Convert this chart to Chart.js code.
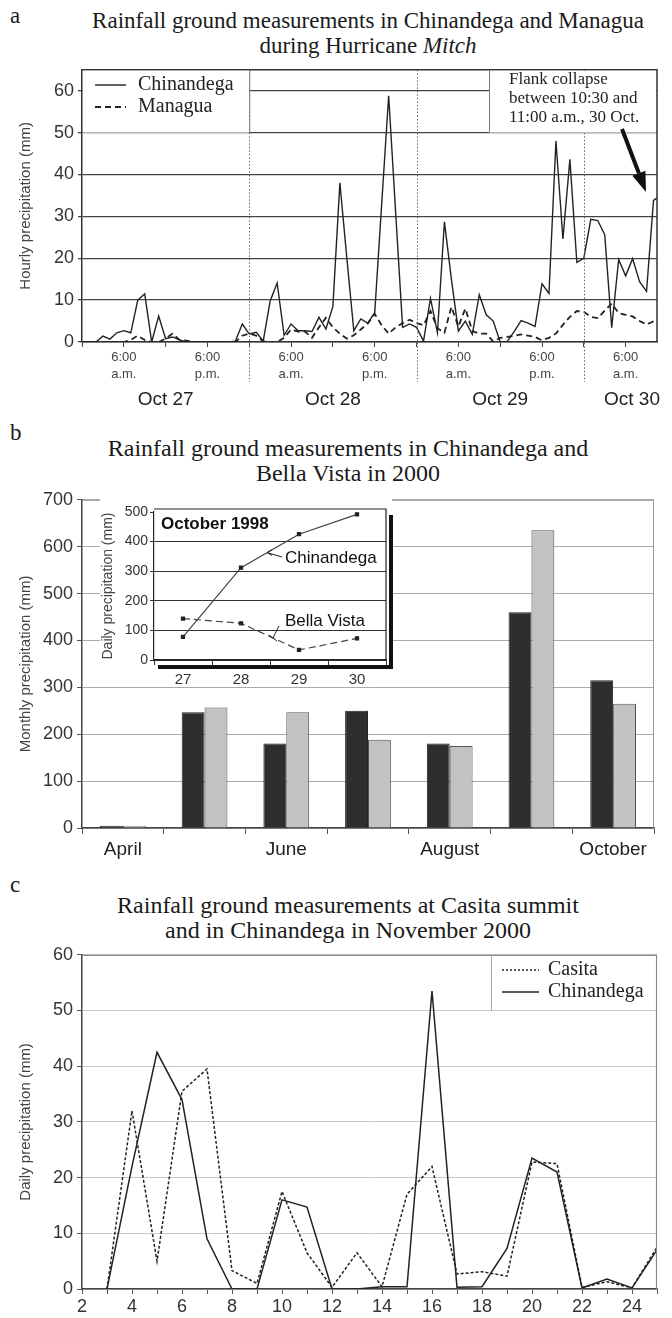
<!DOCTYPE html>
<html>
<head>
<meta charset="utf-8">
<script src="https://cdn.jsdelivr.net/npm/chart.js@4.4.1/dist/chart.umd.min.js"></script>
<style>
  body { margin: 0; background: #fff; width: 672px; height: 1318px; position: relative; overflow: hidden; }
  canvas { position: absolute; }
  .ttl { position: absolute; font-family: "Liberation Serif", "Times New Roman", serif; font-size: 23px; line-height: 25px; color: #1a1a1a; text-align: center; white-space: nowrap; }
  .ttl.big { font-size: 24px; }
  .lt { position: absolute; font-family: "Liberation Serif", "Times New Roman", serif; font-size: 23px; line-height: 25px; color: #1a1a1a; }
</style>
</head>
<body>
<div class="lt" style="left:10px;top:3px">a</div>
<div class="ttl" style="left:68px;width:600px;top:8px">Rainfall ground measurements in Chinandega and Managua<br>during Hurricane <i>Mitch</i></div>
<div class="lt" style="left:10px;top:420px">b</div>
<div class="ttl big" style="left:48px;width:600px;top:436px">Rainfall ground measurements in Chinandega and<br>Bella Vista in 2000</div>
<div class="lt" style="left:10px;top:872px">c</div>
<div class="ttl big" style="left:48px;width:600px;top:893px">Rainfall ground measurements at Casita summit<br>and in Chinandega in November 2000</div>

<canvas id="ca" width="672" height="365" style="left:0;top:55px"></canvas>
<canvas id="cb" width="672" height="385" style="left:0;top:485px"></canvas>
<canvas id="cinset" width="300" height="192" style="left:95px;top:498px"></canvas>
<canvas id="cc" width="672" height="378" style="left:0;top:940px"></canvas>

<script>
// ---- panel a: hourly rain during Mitch, hours from Oct 27 00:00 ----
var hoursA = [0,1,2,3,4,5,6,7,8,9,10,11,12,13,14,15,16,17,18,19,20,21,22,23,24,25,26,27,28,29,
  30,31,32,33,34,35,36,37,38,39,40,41,42,43,44,45,46,47,48,49,50,51,52,53,54,55,56,57,58,59,
  60,61,62,63,64,65,66,67,68,69,70,71,72,73,74,75,76,77,78,79,80,81,82,83];
var chinandegaHourly = [0,0,0,1.4,0.7,2.2,2.7,2.2,10,11.5,
  0,6.2,0.8,1.2,0.5,0,0,0,0,0,
  0,0,0.2,4.3,1.9,2.3,0.2,9.8,14.1,1.6,
  4.3,2.7,2.7,2.5,5.9,3.1,8.5,38,20,2.7,
  5.5,4.5,7,33,58.8,31,3.5,4.3,3.5,0.2,
  10.4,2.2,28.7,15,2.6,5,1.8,11.3,6.5,5,
  0,0.1,2.5,5.1,4.5,3.7,13.9,11.6,48,24.6,
  43.6,19,20,29.3,29,25.6,3.4,19.7,15.8,19.9,
  14.4,12.1,33.8,35];
var managuaHourly = [0,0,0,0,0,0,0,0.5,1.5,0.5,
  0,0,0.8,2,0.5,0.3,0,0,0,0,
  0,0,0,1.5,2,1.5,0.2,0,0,1,
  3,2.5,2.5,1,3.5,5.8,3.5,2,0.8,1.6,
  3,4.4,6.7,4,2,3.5,4.5,5.3,4.5,4,
  7.4,3.3,2.2,8.4,3.7,8,2.6,2,2,0.1,
  1,1.2,1.5,1.8,1.5,1.2,0.4,1,2,4.1,
  6,7.4,7.2,6,5.7,7.5,9.2,6.9,6.5,6.1,
  5,4.2,4.9,4.9];
var dayBounds = [24, 48, 72];
var dayLabels = ['Oct 27', 'Oct 28', 'Oct 29', 'Oct 30'];

// ---- panel b: monthly totals 2000 + inset October 1998 ----
var months = ['April', 'May', 'June', 'July', 'August', 'September', 'October'];
var chinandegaMonthly = [5, 247, 180, 250, 180, 460, 315];
var bellaVistaMonthly = [5, 257, 247, 188, 175, 635, 265];
var octDays = ['27', '28', '29', '30'];
var chinandegaOct98 = [78, 312, 425, 492];
var bellaVistaOct98 = [140, 124, 34, 73];

// ---- panel c: daily rain November 2000 ----
var novDays = [3,4,5,6,7,8,9,10,11,12,13,14,15,16,17,18,19,20,21,22,23,24,25];
var casitaNov = [0,32,5,35.5,39.5,3.3,1,17.5,6.5,0.3,6.5,0.4,17,22,2.7,3.1,2.3,22.8,22.5,0.3,1.3,0.2,7.5];
var chinandegaNov = [0,22,42.5,34,9,0,0,16,14.7,0,0,0.4,0.4,53.5,0.3,0.4,7.3,23.5,21,0.2,1.8,0.2,7];

Chart.defaults.font.family = '"Liberation Sans", Arial, sans-serif';
Chart.defaults.color = '#333';

var SERIF = '"Liberation Serif", "Times New Roman", serif';

function pairs(xs, ys) {
  return xs.map(function (x, i) { return { x: x, y: ys[i] }; });
}

// ---------- chart a ----------
var extrasA = {
  id: 'extrasA',
  afterDraw: function (chart) {
    var c = chart.ctx, xs = chart.scales.x, ys = chart.scales.y, a = chart.chartArea;
    c.save();
    c.strokeStyle = '#666';
    c.lineWidth = 1;
    c.setLineDash([1.5, 2]);
    dayBounds.forEach(function (h) {
      var px = Math.round(xs.getPixelForValue(h)) + 0.5;
      c.beginPath(); c.moveTo(px, a.top); c.lineTo(px, a.bottom + 40); c.stroke();
    });
    c.setLineDash([]);

    // frame top/right
    c.strokeStyle = '#333'; c.lineWidth = 1.5;
    c.beginPath(); c.moveTo(a.left, a.top); c.lineTo(a.right, a.top); c.lineTo(a.right, a.bottom); c.stroke();

    var y50 = ys.getPixelForValue(50);
    var x24 = xs.getPixelForValue(24);
    // legend box
    c.fillStyle = '#fff';
    c.fillRect(a.left + 1, a.top + 1, x24 - a.left - 1, y50 - a.top - 1);
    c.strokeStyle = '#777'; c.lineWidth = 1;
    c.beginPath(); c.moveTo(x24 + 0.5, a.top); c.lineTo(x24 + 0.5, y50); c.stroke();
    c.strokeStyle = '#222'; c.lineWidth = 1.4;
    c.beginPath(); c.moveTo(95, 30); c.lineTo(126, 30); c.stroke();
    c.setLineDash([6, 4]); c.lineWidth = 1.8;
    c.beginPath(); c.moveTo(95, 52); c.lineTo(126, 52); c.stroke();
    c.setLineDash([]);
    c.fillStyle = '#222';
    c.font = '20px ' + SERIF;
    c.textAlign = 'left'; c.textBaseline = 'middle';
    c.fillText('Chinandega', 138, 30);
    c.fillText('Managua', 138, 52);

    // note box
    var bx = a.right - 168;
    c.fillStyle = '#fff';
    c.fillRect(bx, a.top + 1, a.right - bx - 1, y50 - a.top - 1);
    c.strokeStyle = '#777'; c.lineWidth = 1;
    c.beginPath(); c.moveTo(bx + 0.5, a.top); c.lineTo(bx + 0.5, y50); c.stroke();
    c.fillStyle = '#222';
    c.font = '17px ' + SERIF;
    c.fillText('Flank collapse', bx + 20, 25);
    c.fillText('between 10:30 and', bx + 20, 44);
    c.fillText('11:00 a.m., 30 Oct.', bx + 20, 63);

    // arrow
    var x0 = 622, y0 = 74, x1 = 646, y1 = 137;
    var dx = x1 - x0, dy = y1 - y0, L = Math.sqrt(dx * dx + dy * dy);
    var ux = dx / L, uy = dy / L, hl = 20, hw = 7;
    c.strokeStyle = '#111'; c.lineWidth = 4;
    c.beginPath(); c.moveTo(x0, y0); c.lineTo(x1 - ux * hl, y1 - uy * hl); c.stroke();
    c.fillStyle = '#111';
    c.beginPath();
    c.moveTo(x1, y1);
    c.lineTo(x1 - ux * hl - uy * hw, y1 - uy * hl + ux * hw);
    c.lineTo(x1 - ux * hl + uy * hw, y1 - uy * hl - ux * hw);
    c.closePath(); c.fill();

    // day labels
    c.fillStyle = '#222';
    c.font = '19px "Liberation Sans", Arial, sans-serif';
    c.textAlign = 'center';
    [12, 36, 60].forEach(function (h, i) {
      c.fillText(dayLabels[i], xs.getPixelForValue(h), 345);
    });
    c.textAlign = 'right';
    c.fillText(dayLabels[3], a.right + 3, 345);
    c.restore();
  }
};

new Chart(document.getElementById('ca'), {
  type: 'line',
  data: {
    datasets: [
      { label: 'Chinandega', data: pairs(hoursA, chinandegaHourly), borderColor: '#222', borderWidth: 1.4, pointRadius: 0, tension: 0 },
      { label: 'Managua', data: pairs(hoursA, managuaHourly), borderColor: '#222', borderWidth: 1.8, borderDash: [6, 4], pointRadius: 0, tension: 0 }
    ]
  },
  options: {
    responsive: false, animation: false, devicePixelRatio: 1,
    layout: { padding: { left: 0, right: 15, top: 8, bottom: 0 } },
    plugins: { legend: { display: false }, tooltip: { enabled: false } },
    scales: {
      x: {
        type: 'linear', min: 0, max: 82.5,
        afterFit: function (s) { s.height = 78; },
        ticks: {
          stepSize: 6, includeBounds: false, autoSkip: false, maxRotation: 0, padding: 2,
          font: { size: 13, lineHeight: 1.3 }, color: '#444',
          callback: function (v) {
            if (v % 24 === 6) return ['6:00', 'a.m.'];
            if (v % 24 === 18) return ['6:00', 'p.m.'];
            return '';
          }
        },
        grid: { drawOnChartArea: false, tickLength: 5, color: '#444' },
        border: { color: '#333', width: 1.5 }
      },
      y: {
        min: 0, max: 65,
        afterFit: function (s) { s.width = 82; },
        ticks: { stepSize: 10, includeBounds: false, padding: 4, font: { size: 18 }, color: '#333' },
        grid: { color: '#444', lineWidth: 1.3, tickLength: 4 },
        border: { color: '#333', width: 1.5 },
        title: { display: true, text: 'Hourly precipitation (mm)', font: { size: 15 }, color: '#444', padding: { top: 17, bottom: 0 } }
      }
    }
  },
  plugins: [extrasA]
});

// ---------- chart b ----------
var frameB = {
  id: 'frameB',
  afterDraw: function (chart) {
    var c = chart.ctx, a = chart.chartArea;
    c.save();
    c.strokeStyle = '#999'; c.lineWidth = 1;
    c.beginPath(); c.moveTo(a.left, a.top + 0.5); c.lineTo(a.right - 0.5, a.top + 0.5); c.lineTo(a.right - 0.5, a.bottom); c.stroke();
    c.restore();
  }
};

new Chart(document.getElementById('cb'), {
  type: 'bar',
  data: {
    labels: months,
    datasets: [
      { label: 'Chinandega', data: chinandegaMonthly, backgroundColor: '#2e2e2e', borderColor: '#222', borderWidth: 1, barPercentage: 1, categoryPercentage: 0.56 },
      { label: 'Bella Vista', data: bellaVistaMonthly, backgroundColor: '#c2c2c2', borderColor: '#555', borderWidth: 1, barPercentage: 1, categoryPercentage: 0.56 }
    ]
  },
  options: {
    responsive: false, animation: false, devicePixelRatio: 1,
    layout: { padding: { left: 0, right: 18, top: 8, bottom: 0 } },
    plugins: { legend: { display: false }, tooltip: { enabled: false } },
    scales: {
      x: {
        afterFit: function (s) { s.height = 42; },
        ticks: {
          autoSkip: false, maxRotation: 0, padding: 4, font: { size: 19 }, color: '#222',
          callback: function (v, i) { return i % 2 === 0 ? months[i] : ''; }
        },
        grid: { drawOnChartArea: false, tickLength: 6, color: '#555', offset: true },
        border: { color: '#444', width: 1.5 }
      },
      y: {
        min: 0, max: 700,
        afterFit: function (s) { s.width = 82; },
        ticks: { stepSize: 100, padding: 4, font: { size: 18 }, color: '#333' },
        grid: { color: '#aaa', lineWidth: 1, tickLength: 5, tickColor: '#555' },
        border: { color: '#444', width: 1.5 },
        title: { display: true, text: 'Monthly precipitation (mm)', font: { size: 15 }, color: '#444', padding: { top: 17, bottom: 0 } }
      }
    }
  },
  plugins: [frameB]
});

// ---------- inset ----------
var insetExtras = {
  id: 'insetExtras',
  beforeDraw: function (chart) {
    var c = chart.ctx;
    c.save();
    c.fillStyle = '#fff';
    c.fillRect(5, 0, 292, 187);
    c.restore();
  },
  afterDraw: function (chart) {
    var c = chart.ctx, a = chart.chartArea, xs = chart.scales.x, ys = chart.scales.y;
    c.save();
    c.strokeStyle = '#222'; c.lineWidth = 1.2;
    c.beginPath(); c.moveTo(a.left, a.top - 3); c.lineTo(a.right, a.top - 3); c.lineTo(a.right, a.bottom); c.stroke();
    // drop shadow
    c.strokeStyle = '#111'; c.lineWidth = 4;
    c.beginPath(); c.moveTo(a.right + 5, a.top + 3); c.lineTo(a.right + 5, a.bottom + 7); c.lineTo(a.left + 4, a.bottom + 7); c.stroke();

    c.fillStyle = '#111';
    c.textAlign = 'left'; c.textBaseline = 'middle';
    c.font = 'bold 17px "Liberation Sans", Arial, sans-serif';
    c.fillText('October 1998', a.left + 7, 26);

    c.font = '17px "Liberation Sans", Arial, sans-serif';
    c.fillText('Chinandega', 190, 60);
    c.fillText('Bella Vista', 190, 123);

    // pointers from labels to lines
    var p1x = xs.getPixelForValue(1.45), p1y = ys.getPixelForValue(chinandegaOct98[1] + 0.45 * (chinandegaOct98[2] - chinandegaOct98[1]));
    var p2x = xs.getPixelForValue(1.55), p2y = ys.getPixelForValue(bellaVistaOct98[1] + 0.55 * (bellaVistaOct98[2] - bellaVistaOct98[1]));
    c.strokeStyle = '#222'; c.lineWidth = 1;
    c.beginPath(); c.moveTo(187, 59); c.lineTo(p1x, p1y); c.stroke();
    c.beginPath(); c.moveTo(p1x, p1y); c.lineTo(p1x + 5, p1y - 3); c.moveTo(p1x, p1y); c.lineTo(p1x + 5, p1y + 3); c.stroke();
    c.beginPath(); c.moveTo(184, 128); c.lineTo(p2x, p2y); c.stroke();
    c.beginPath(); c.moveTo(p2x - 4, p2y - 3); c.lineTo(p2x + 4, p2y + 3); c.stroke();
    c.restore();
  }
};

new Chart(document.getElementById('cinset'), {
  type: 'line',
  data: {
    labels: octDays,
    datasets: [
      { label: 'Chinandega', data: chinandegaOct98, borderColor: '#444', borderWidth: 1.2, pointStyle: 'rect', pointRadius: 2.2, pointBackgroundColor: '#222', pointBorderColor: '#222', tension: 0 },
      { label: 'Bella Vista', data: bellaVistaOct98, borderColor: '#444', borderWidth: 1.2, borderDash: [7, 4], pointStyle: 'rect', pointRadius: 2.2, pointBackgroundColor: '#222', pointBorderColor: '#222', tension: 0 }
    ]
  },
  options: {
    responsive: false, animation: false, devicePixelRatio: 1,
    layout: { padding: { left: 0, right: 9, top: 14, bottom: 6 } },
    plugins: { legend: { display: false }, tooltip: { enabled: false } },
    scales: {
      x: {
        offset: true,
        afterFit: function (s) { s.height = 24; },
        ticks: { padding: 6, font: { size: 15 }, color: '#333', maxRotation: 0 },
        grid: { drawOnChartArea: false, offset: true, tickLength: 5, color: '#333' },
        border: { color: '#222', width: 1.5 }
      },
      y: {
        min: 0, max: 500,
        afterFit: function (s) { s.width = 59; },
        ticks: { stepSize: 100, padding: 2, font: { size: 14 }, color: '#333' },
        grid: {
          tickLength: 4, tickColor: '#333', lineWidth: 1,
          color: function (ctx) { return ctx.tick && ctx.tick.value === 500 ? 'rgba(0,0,0,0)' : '#333'; }
        },
        border: { color: '#222', width: 1.2 },
        title: { display: true, text: 'Daily precipitation (mm)', font: { size: 14 }, color: '#444', padding: { top: 5, bottom: 0 } }
      }
    }
  },
  plugins: [insetExtras]
});

// ---------- chart c ----------
var extrasC = {
  id: 'extrasC',
  afterDraw: function (chart) {
    var c = chart.ctx, a = chart.chartArea, ys = chart.scales.y;
    c.save();
    c.strokeStyle = '#888'; c.lineWidth = 1.2;
    c.beginPath(); c.moveTo(a.left, a.top + 0.5); c.lineTo(a.right - 0.5, a.top + 0.5); c.lineTo(a.right - 0.5, a.bottom); c.stroke();
    var y50 = ys.getPixelForValue(50), bx = a.right - 166;
    c.fillStyle = '#fff';
    c.fillRect(bx, a.top + 1.5, a.right - bx - 1.5, y50 - a.top - 2);
    c.strokeStyle = '#aaa'; c.lineWidth = 1;
    c.beginPath(); c.moveTo(bx + 0.5, a.top); c.lineTo(bx + 0.5, y50); c.stroke();
    c.strokeStyle = '#222'; c.lineWidth = 1.5;
    c.setLineDash([2, 2]);
    c.beginPath(); c.moveTo(bx + 11, 30); c.lineTo(bx + 48, 30); c.stroke();
    c.setLineDash([]);
    c.beginPath(); c.moveTo(bx + 11, 52); c.lineTo(bx + 48, 52); c.stroke();
    c.fillStyle = '#222';
    c.font = '20px ' + SERIF;
    c.textAlign = 'left'; c.textBaseline = 'middle';
    c.fillText('Casita', bx + 57, 30);
    c.fillText('Chinandega', bx + 57, 52);
    c.restore();
  }
};

new Chart(document.getElementById('cc'), {
  type: 'line',
  data: {
    datasets: [
      { label: 'Casita', data: pairs(novDays, casitaNov), borderColor: '#222', borderWidth: 1.5, borderDash: [3, 2], pointRadius: 0, tension: 0 },
      { label: 'Chinandega', data: pairs(novDays, chinandegaNov), borderColor: '#222', borderWidth: 1.5, pointRadius: 0, tension: 0 }
    ]
  },
  options: {
    responsive: false, animation: false, devicePixelRatio: 1,
    layout: { padding: { left: 0, right: 15, top: 13, bottom: 0 } },
    plugins: { legend: { display: false }, tooltip: { enabled: false } },
    scales: {
      x: {
        type: 'linear', min: 2, max: 25,
        afterFit: function (s) { s.height = 29; },
        ticks: {
          stepSize: 1, autoSkip: false, maxRotation: 0, padding: 2, font: { size: 18 }, color: '#333',
          callback: function (v) { return v % 2 === 0 ? String(v) : ''; }
        },
        grid: { drawOnChartArea: false, tickLength: 5, color: '#555' },
        border: { color: '#444', width: 1.5 }
      },
      y: {
        min: 0, max: 60,
        afterFit: function (s) { s.width = 82; },
        ticks: { stepSize: 10, padding: 4, font: { size: 18 }, color: '#333' },
        grid: { color: '#c8c8c8', lineWidth: 1, tickLength: 5, tickColor: '#555' },
        border: { color: '#444', width: 1.5 },
        title: { display: true, text: 'Daily precipitation (mm)', font: { size: 15 }, color: '#444', padding: { top: 17, bottom: 0 } }
      }
    }
  },
  plugins: [extrasC]
});
</script>
</body>
</html>
